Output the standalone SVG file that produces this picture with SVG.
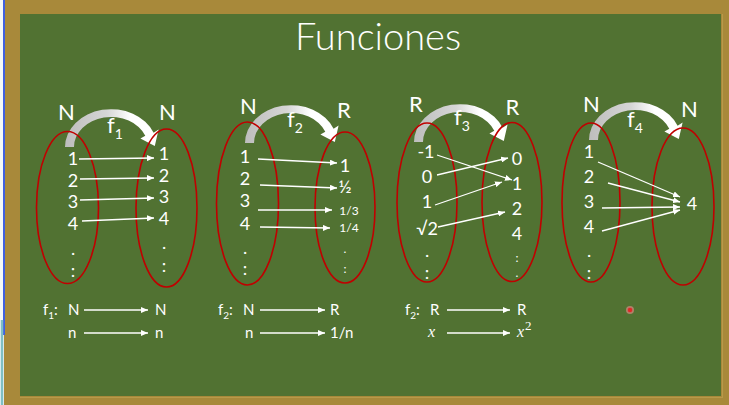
<svg xmlns="http://www.w3.org/2000/svg" width="729" height="405" viewBox="0 0 729 405">
<defs>
<style>
.lbl{font-family:Lato,"Open Sans","Liberation Sans",sans-serif;fill:#ffffff;font-size:18px;text-anchor:middle}
.set{font-family:Lato,"Open Sans","Liberation Sans",sans-serif;fill:#ffffff;font-size:22px;text-anchor:middle}
.fn{font-family:Lato,"Open Sans","Liberation Sans",sans-serif;fill:#ffffff;font-size:22px}
.bt{font-family:Lato,"Open Sans","Liberation Sans",sans-serif;fill:#ffffff;font-size:15px}
.mx{font-family:"Liberation Serif",serif;font-style:italic;fill:#ffffff;font-size:16px}
.sm{font-size:12px}
.ell{fill:none;stroke:#c00000;stroke-width:1.6}
.ar{stroke:#ffffff;stroke-width:1.3;fill:none;marker-end:url(#ah)}
</style>
<marker id="ah" markerUnits="userSpaceOnUse" markerWidth="8" markerHeight="6" refX="7" refY="3" orient="auto">
<path d="M0,0 L7,3 L0,6 Z" fill="#ffffff"/>
</marker>
<linearGradient id="gArc" x1="0" y1="0" x2="1" y2="0">
<stop offset="0" stop-color="#bdbdbd"/>
<stop offset="0.45" stop-color="#d6d6d6"/>
<stop offset="0.7" stop-color="#ffffff"/>
<stop offset="1" stop-color="#ffffff"/>
</linearGradient>
<path id="arc" d="M0,0 A46,38 0 0 1 88.6,-14.2 L93.6,-17.6 L89.8,-1 L75.4,-8.6 L80.3,-11.3 A37,30 0 0 0 9,0 Z" fill="url(#gArc)"/>
</defs>
<rect x="0" y="0" width="729" height="405" fill="#a8893a"/>
<rect x="0" y="0" width="4" height="405" fill="#f4f8f8"/>
<line x1="4" y1="0" x2="4" y2="335" stroke="#3f5fe0" stroke-width="2"/>
<line x1="2" y1="320" x2="2" y2="405" stroke="#7fbfc4" stroke-width="2.5"/>
<rect x="20" y="14" width="701" height="382" fill="#517232"/>
<line x1="722.5" y1="14" x2="722.5" y2="398" stroke="#b89a4a" stroke-width="1"/>
<line x1="20" y1="397.5" x2="722" y2="397.5" stroke="#b89a4a" stroke-width="1"/>

<text x="378" y="50" font-family="Lato,'Open Sans','Liberation Sans',sans-serif" font-weight="300" font-size="38" fill="#ffffff" text-anchor="middle">Funciones</text>

<g id="f1">
<use href="#arc" transform="translate(65,147)"/>
<text class="set" x="66.5" y="120">N</text>
<text class="set" x="167.5" y="120">N</text>
<text class="fn" x="107" y="133">f<tspan font-size="14" dy="6">1</tspan></text>
<ellipse class="ell" cx="67.5" cy="207.5" rx="31" ry="76"/>
<ellipse class="ell" cx="166.5" cy="208" rx="30.5" ry="79"/>
<text class="lbl" x="73" y="165">1</text>
<text class="lbl" x="73" y="187">2</text>
<text class="lbl" x="73" y="208">3</text>
<text class="lbl" x="73" y="230">4</text>
<text class="lbl" x="73" y="255">.</text>
<text class="lbl" x="73" y="277">:</text>
<text class="lbl" x="164" y="160">1</text>
<text class="lbl" x="164" y="182">2</text>
<text class="lbl" x="164" y="203">3</text>
<text class="lbl" x="164" y="225">4</text>
<text class="lbl" x="164" y="249">.</text>
<text class="lbl" x="164" y="272">:</text>
</g>

<g id="f2">
<use href="#arc" transform="translate(245,143)"/>
<text class="set" x="248.5" y="114">N</text>
<text class="set" x="344" y="118">R</text>
<text class="fn" x="287" y="127">f<tspan font-size="14" dy="6">2</tspan></text>
<ellipse class="ell" cx="247.5" cy="203.5" rx="31" ry="81.5"/>
<ellipse class="ell" cx="345" cy="207.5" rx="30" ry="75.5"/>
<text class="lbl" x="245" y="163">1</text>
<text class="lbl" x="245" y="185">2</text>
<text class="lbl" x="245" y="207">3</text>
<text class="lbl" x="245" y="230">4</text>
<text class="lbl" x="245" y="254">.</text>
<text class="lbl" x="245" y="275">:</text>
<text class="lbl" x="345" y="172">1</text>
<text class="lbl" x="345" y="193" font-size="16">½</text>
<text class="lbl sm" x="349" y="215">1/3</text>
<text class="lbl sm" x="349" y="232">1/4</text>
<text class="lbl sm" x="345" y="253">.</text>
<text class="lbl sm" x="345" y="273">:</text>
</g>

<g id="f3">
<use href="#arc" transform="translate(414,142)"/>
<text class="set" x="416" y="112">R</text>
<text class="set" x="512.5" y="115">R</text>
<text class="fn" x="454" y="125">f<tspan font-size="14" dy="6">3</tspan></text>
<ellipse class="ell" cx="427" cy="202.5" rx="30" ry="79.5"/>
<ellipse class="ell" cx="512" cy="202" rx="30" ry="79.5"/>
<text class="lbl" x="426" y="158">-1</text>
<text class="lbl" x="427" y="183">0</text>
<text class="lbl" x="427" y="208">1</text>
<text class="lbl" x="427" y="235">√2</text>
<text class="lbl" x="427" y="257">.</text>
<text class="lbl" x="427" y="279">:</text>
<text class="lbl" x="517" y="165">0</text>
<text class="lbl" x="517" y="190">1</text>
<text class="lbl" x="517" y="215">2</text>
<text class="lbl" x="517" y="240">4</text>
<text class="lbl sm" x="517" y="262">:</text>
<text class="lbl sm" x="517" y="277">.</text>
</g>

<g id="f4">
<use href="#arc" transform="translate(589,140)"/>
<text class="set" x="591.5" y="112">N</text>
<text class="set" x="689.5" y="117">N</text>
<text class="fn" x="627" y="127">f<tspan font-size="14" dy="6">4</tspan></text>
<ellipse class="ell" cx="591" cy="202.5" rx="29" ry="79.5"/>
<ellipse class="ell" cx="683" cy="206.5" rx="31" ry="78.5"/>
<text class="lbl" x="589" y="158">1</text>
<text class="lbl" x="589" y="183">2</text>
<text class="lbl" x="589" y="208">3</text>
<text class="lbl" x="589" y="233">4</text>
<text class="lbl" x="589" y="257">.</text>
<text class="lbl" x="589" y="279">:</text>
<text class="lbl" x="692" y="210">4</text>
</g>

<g id="connectors">
<line class="ar" x1="79" y1="159" x2="154" y2="158"/>
<line class="ar" x1="80" y1="179" x2="154" y2="178"/>
<line class="ar" x1="80" y1="200" x2="154" y2="198"/>
<line class="ar" x1="82" y1="221" x2="154" y2="218"/>
<line class="ar" x1="258" y1="159" x2="337" y2="163"/>
<line class="ar" x1="260" y1="185" x2="337" y2="188"/>
<line class="ar" x1="258" y1="210" x2="332" y2="210"/>
<line class="ar" x1="260" y1="227" x2="330" y2="228"/>
<line class="ar" x1="437" y1="155" x2="512" y2="180"/>
<line class="ar" x1="437" y1="175" x2="508" y2="158"/>
<line class="ar" x1="435" y1="205" x2="502" y2="182"/>
<line class="ar" x1="438" y1="227" x2="505" y2="212"/>
<line class="ar" x1="598" y1="162" x2="680" y2="197"/>
<line class="ar" x1="608" y1="183" x2="680" y2="202"/>
<line class="ar" x1="602" y1="208" x2="680" y2="207"/>
<line class="ar" x1="602" y1="231" x2="680" y2="210"/>
<line class="ar" x1="84" y1="310" x2="148" y2="310"/>
<line class="ar" x1="84" y1="333" x2="148" y2="333"/>
<line class="ar" x1="260" y1="310" x2="325" y2="310"/>
<line class="ar" x1="260" y1="333" x2="325" y2="333"/>
<line class="ar" x1="447" y1="310" x2="510" y2="310"/>
<line class="ar" x1="447" y1="333" x2="510" y2="333"/>
</g>

<g id="def1">
<text class="bt" x="43" y="315">f<tspan font-size="10" dy="4">1</tspan><tspan dy="-4">:</tspan></text>
<text class="bt" x="68" y="315">N</text>
<text class="bt" x="155" y="315">N</text>
<text class="bt" x="68" y="338">n</text>
<text class="bt" x="155" y="338">n</text>
</g>
<g id="def2">
<text class="bt" x="218" y="315">f<tspan font-size="10" dy="4">2</tspan><tspan dy="-4">:</tspan></text>
<text class="bt" x="243" y="315">N</text>
<text class="bt" x="330" y="315">R</text>
<text class="bt" x="245" y="338">n</text>
<text class="bt" x="330" y="338">1/n</text>
</g>
<g id="def3">
<text class="bt" x="405" y="315">f<tspan font-size="10" dy="4">2</tspan><tspan dy="-4">:</tspan></text>
<text class="bt" x="430" y="315">R</text>
<text class="bt" x="517" y="315">R</text>
<text class="mx" x="428" y="337">x</text>
<text class="mx" x="517" y="337">x<tspan font-style="normal" font-size="13" dx="1" dy="-7">2</tspan></text>
</g>
<circle cx="630" cy="310" r="4" fill="#f08a8a" opacity="0.6"/>
<circle cx="630" cy="310" r="2.3" fill="#e02828"/>
</svg>
